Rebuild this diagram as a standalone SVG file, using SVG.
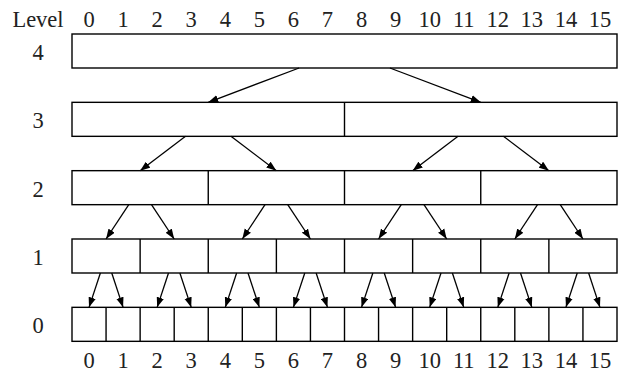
<svg xmlns="http://www.w3.org/2000/svg" width="621" height="375" viewBox="0 0 621 375">
<style>
text{font-family:"Liberation Serif","DejaVu Serif",serif;font-size:22.5px;fill:#222;text-anchor:middle}
.box rect{fill:#fff;stroke:#000;stroke-width:1.4}
.box line{stroke:#000;stroke-width:1.4}
#connectors line{stroke:#000;stroke-width:1.3;marker-end:url(#ah)}
</style>
<defs>
<marker id="ah" markerUnits="userSpaceOnUse" markerWidth="10" markerHeight="8" refX="10" refY="4" orient="auto">
<path d="M0,0.3 L10,4 L0,7.7 z" fill="#000"/>
</marker>
</defs>
<rect width="621" height="375" fill="#fff"/>
<g id="labels">
<text x="38" y="27">Level</text>
<text x="89.03" y="27">0</text><text x="123.09" y="27">1</text><text x="157.16" y="27">2</text><text x="191.22" y="27">3</text>
<text x="225.28" y="27">4</text><text x="259.34" y="27">5</text><text x="293.41" y="27">6</text><text x="327.47" y="27">7</text>
<text x="361.53" y="27">8</text><text x="395.59" y="27">9</text><text x="429.66" y="27">10</text><text x="463.72" y="27">11</text>
<text x="497.78" y="27">12</text><text x="531.84" y="27">13</text><text x="565.91" y="27">14</text><text x="599.97" y="27">15</text>
<text x="38" y="60">4</text>
<text x="38" y="128.3">3</text>
<text x="38" y="196.7">2</text>
<text x="38" y="265">1</text>
<text x="38" y="333.3">0</text>
<text x="89.03" y="368">0</text><text x="123.09" y="368">1</text><text x="157.16" y="368">2</text><text x="191.22" y="368">3</text>
<text x="225.28" y="368">4</text><text x="259.34" y="368">5</text><text x="293.41" y="368">6</text><text x="327.47" y="368">7</text>
<text x="361.53" y="368">8</text><text x="395.59" y="368">9</text><text x="429.66" y="368">10</text><text x="463.72" y="368">11</text>
<text x="497.78" y="368">12</text><text x="531.84" y="368">13</text><text x="565.91" y="368">14</text><text x="599.97" y="368">15</text>
</g>
<g id="level4" class="box">
<rect x="72" y="34" width="545" height="34"/>
</g>
<g id="level3" class="box">
<rect x="72" y="102.33" width="545" height="34"/>
<line x1="344.5" y1="102.33" x2="344.5" y2="136.33"/>
</g>
<g id="level2" class="box">
<rect x="72" y="170.67" width="545" height="34"/>
<line x1="208.25" y1="170.67" x2="208.25" y2="204.67"/>
<line x1="344.5" y1="170.67" x2="344.5" y2="204.67"/>
<line x1="480.75" y1="170.67" x2="480.75" y2="204.67"/>
</g>
<g id="level1" class="box">
<rect x="72" y="239" width="545" height="34"/>
<line x1="140.13" y1="239" x2="140.13" y2="273"/>
<line x1="208.25" y1="239" x2="208.25" y2="273"/>
<line x1="276.38" y1="239" x2="276.38" y2="273"/>
<line x1="344.5" y1="239" x2="344.5" y2="273"/>
<line x1="412.63" y1="239" x2="412.63" y2="273"/>
<line x1="480.75" y1="239" x2="480.75" y2="273"/>
<line x1="548.88" y1="239" x2="548.88" y2="273"/>
</g>
<g id="level0" class="box">
<rect x="72" y="307.33" width="545" height="34"/>
<line x1="106.06" y1="307.33" x2="106.06" y2="341.33"/>
<line x1="140.13" y1="307.33" x2="140.13" y2="341.33"/>
<line x1="174.19" y1="307.33" x2="174.19" y2="341.33"/>
<line x1="208.25" y1="307.33" x2="208.25" y2="341.33"/>
<line x1="242.31" y1="307.33" x2="242.31" y2="341.33"/>
<line x1="276.38" y1="307.33" x2="276.38" y2="341.33"/>
<line x1="310.44" y1="307.33" x2="310.44" y2="341.33"/>
<line x1="344.5" y1="307.33" x2="344.5" y2="341.33"/>
<line x1="378.56" y1="307.33" x2="378.56" y2="341.33"/>
<line x1="412.63" y1="307.33" x2="412.63" y2="341.33"/>
<line x1="446.69" y1="307.33" x2="446.69" y2="341.33"/>
<line x1="480.75" y1="307.33" x2="480.75" y2="341.33"/>
<line x1="514.81" y1="307.33" x2="514.81" y2="341.33"/>
<line x1="548.88" y1="307.33" x2="548.88" y2="341.33"/>
<line x1="582.94" y1="307.33" x2="582.94" y2="341.33"/>
</g>
<g id="connectors">
<line x1="299.08" y1="68" x2="208.25" y2="102.33"/>
<line x1="389.92" y1="68" x2="480.75" y2="102.33"/>
<line x1="185.54" y1="136.33" x2="140.13" y2="170.67"/>
<line x1="230.96" y1="136.33" x2="276.38" y2="170.67"/>
<line x1="458.04" y1="136.33" x2="412.63" y2="170.67"/>
<line x1="503.46" y1="136.33" x2="548.88" y2="170.67"/>
<line x1="128.77" y1="204.67" x2="106.06" y2="239"/>
<line x1="151.48" y1="204.67" x2="174.19" y2="239"/>
<line x1="265.02" y1="204.67" x2="242.31" y2="239"/>
<line x1="287.73" y1="204.67" x2="310.44" y2="239"/>
<line x1="401.27" y1="204.67" x2="378.56" y2="239"/>
<line x1="423.98" y1="204.67" x2="446.69" y2="239"/>
<line x1="537.52" y1="204.67" x2="514.81" y2="239"/>
<line x1="560.23" y1="204.67" x2="582.94" y2="239"/>
<line x1="100.39" y1="273" x2="89.03" y2="307.33"/>
<line x1="111.74" y1="273" x2="123.09" y2="307.33"/>
<line x1="168.51" y1="273" x2="157.16" y2="307.33"/>
<line x1="179.87" y1="273" x2="191.22" y2="307.33"/>
<line x1="236.64" y1="273" x2="225.28" y2="307.33"/>
<line x1="247.99" y1="273" x2="259.34" y2="307.33"/>
<line x1="304.77" y1="273" x2="293.41" y2="307.33"/>
<line x1="316.12" y1="273" x2="327.47" y2="307.33"/>
<line x1="372.89" y1="273" x2="361.53" y2="307.33"/>
<line x1="384.24" y1="273" x2="395.59" y2="307.33"/>
<line x1="441.01" y1="273" x2="429.66" y2="307.33"/>
<line x1="452.37" y1="273" x2="463.72" y2="307.33"/>
<line x1="509.14" y1="273" x2="497.78" y2="307.33"/>
<line x1="520.49" y1="273" x2="531.84" y2="307.33"/>
<line x1="577.26" y1="273" x2="565.91" y2="307.33"/>
<line x1="588.62" y1="273" x2="599.97" y2="307.33"/>
</g>
</svg>
